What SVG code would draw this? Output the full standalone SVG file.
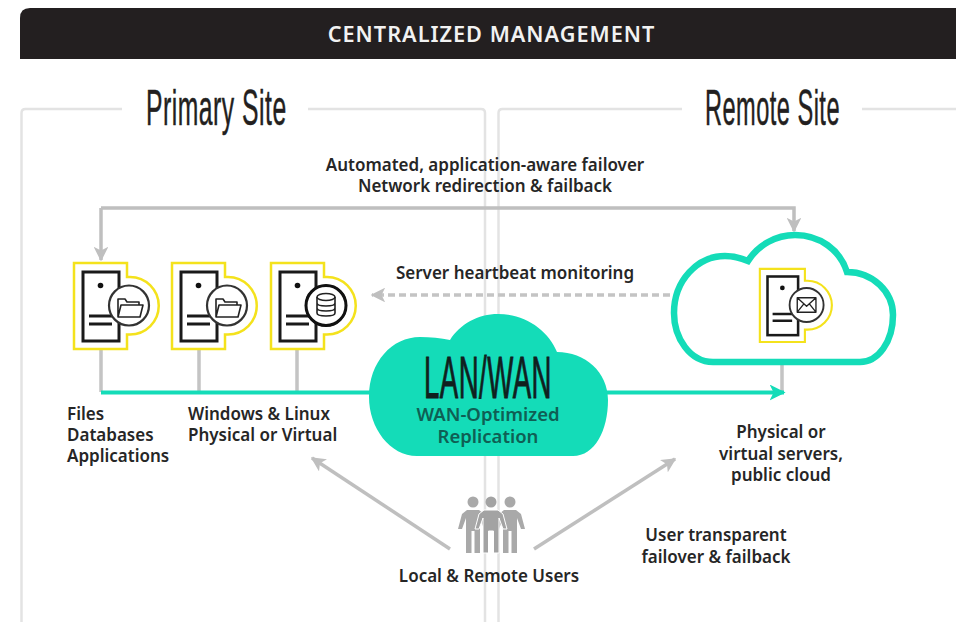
<svg xmlns="http://www.w3.org/2000/svg" width="956" height="622" viewBox="0 0 956 622">
<style>
text{font-family:"Noto Sans","Liberation Sans",sans-serif;font-weight:600;font-size:17px;fill:#262626}
.m{text-anchor:middle}
.cond{font-family:"Liberation Sans",sans-serif;font-weight:400;fill:#231f20;stroke:#231f20;stroke-width:.5px;letter-spacing:1px}
.frame{fill:none;stroke:#e3e3e3;stroke-width:2.5}
.ln{fill:none;stroke:#bfbfbf;stroke-width:3.5}
.thin{fill:none;stroke:#c4c4c4;stroke-width:3.5}
.teal{fill:none;stroke:#14dcb8;stroke-width:4}
.ico{fill:none;stroke:#222;stroke-width:1.6;stroke-linejoin:round}
.usr{fill:#a9a9a9}
</style>
<defs>
<g id="server">
<path d="M1 1H54V15H57A28.5 28.5 0 0 1 57 72.500H54V87H1Z" fill="#fff" stroke="#f4e21c" stroke-width="2.500"/>
<rect x="10" y="10" width="36" height="69" fill="#fff" stroke="#1a1a1a" stroke-width="3"/>
<circle cx="27.500" cy="23.500" r="2.800" fill="#111"/>
<path d="M16 54H40M16 62H39" stroke="#1a1a1a" stroke-width="3" fill="none"/>
<circle cx="56" cy="43.500" r="20" fill="#fff" stroke="#333" stroke-width="2.200"/>
</g>
<g id="folder">
<path class="ico" d="M45 55V37H52L54 40H66V43M45 55L48 43H70L67 55Z"/>
</g>
<g id="dbicon">
<circle cx="56" cy="43.500" r="20" fill="#fff" stroke="#111" stroke-width="3"/>
<ellipse class="ico" cx="56" cy="35" rx="9" ry="3.500"/>
<path class="ico" d="M47 35V51C47 55 65 55 65 51V35M47 41C47 45 65 45 65 41M47 46C47 50 65 50 65 46"/>
</g>
<g id="person"><circle class="usr" cy="502" r="5.500"/><path class="usr" d="M-6 510H6L11 514L15 529H11L7 518V553H1.500V531H-1.500V553H-7V518L-11 529H-15L-11 514Z"/></g>
<marker id="ah" viewBox="0 0 10 10" refX="9" refY="5" markerWidth="4.200" markerHeight="4.200" orient="auto"><path d="M0 0L10 5L0 10L2.500 5Z" fill="#bfbfbf"/></marker>
<marker id="at" viewBox="0 0 10 10" refX="9" refY="5" markerWidth="4" markerHeight="4" orient="auto"><path d="M0 0L10 5L0 10L2.500 5Z" fill="#14dcb8"/></marker>
</defs>
<rect width="956" height="622" fill="#fff"/>
<g id="frames">
<path class="frame" d="M21.500 622V113Q21.500 109 25.500 109H122M308 109H481Q485 109 485 113V622"/>
<path class="frame" d="M498.500 622V113Q498.500 109 502.500 109H682M862 109H956"/>
</g>
<g id="connectors">
<path class="ln" d="M101 208V260" marker-end="url(#ah)"/>
<path class="ln" d="M101 208H794V231" marker-end="url(#ah)"/>
<path d="M670 295H372" fill="none" stroke="#c4c4c4" stroke-width="3.500" stroke-dasharray="7 4" marker-end="url(#ah)"/>
<path class="thin" d="M101 350V392M199 350V392M297 350V392M782 365V393"/>
<path class="teal" d="M101 392.500H784" marker-end="url(#at)"/>
<path class="ln" d="M450 549L312 458" marker-end="url(#ah)"/>
<path class="ln" d="M534 549L675 459" marker-end="url(#ah)"/>
</g>
<g id="header">
<path d="M20 59V18Q20 8 30 8H956V59Z" fill="#231f20"/>
<text class="m" x="491.500" y="42" style="font-size:21.700px;letter-spacing:1px;fill:#f2f2f2">CENTRALIZED MANAGEMENT</text>
</g>
<g id="primary-title"><text class="cond" transform="translate(146 125) scale(.495 1)" style="font-size:50px">Primary Site</text></g>
<g id="remote-title"><text class="cond" transform="translate(705 125) scale(.472 1)" style="font-size:50px">Remote Site</text></g>
<g id="failover-label">
<text class="m" x="485" y="171">Automated, application-aware failover</text>
<text class="m" x="485" y="192">Network redirection &amp; failback</text>
</g>
<g id="heartbeat-label"><text class="m" x="515" y="279">Server heartbeat monitoring</text></g>
<g id="node-files" transform="translate(73 262)"><use href="#server"/><use href="#folder"/></g>
<g id="node-windows" transform="translate(171 262)"><use href="#server"/><use href="#folder"/></g>
<g id="node-database" transform="translate(270 262)"><use href="#server"/><use href="#dbicon"/></g>
<g id="node-remote-cloud">
<path d="M713 362C690 362 674 338 674 313C674 280 698 256 725 256C733 256 741 258 748 261C758 245 776 235 795 235C820 235 840 250 847 272C873 272 893 292 893 315C893 342 878 362 860 362Z" fill="#fff" stroke="#14dcb8" stroke-width="6.500"/>
<g transform="translate(759 268) scale(.85)"><use href="#server"/>
<path class="ico" d="M45 35H67V52H45ZM45 35L56 45L67 35M45 52L53 42M67 52L59 42" stroke-width="2"/></g>
</g>
<g id="node-lanwan">
<path d="M417 456C390 456 369 428 369 397C369 362 392 337 420 337C430 337 441 338 450 340C460 324 478 314 498 314C525 314 548 330 557 352C585 352 608 372 608 400C608 430 595 456 573 456Z" fill="#14dcb8"/>
<text class="cond" transform="translate(424 398) scale(.46 1)" style="font-size:60px;stroke-width:1px;fill:#10201e;stroke:#10201e">LAN/WAN</text>
<text class="m" x="488" y="421" style="font-size:18.500px;fill:#0f5f54">WAN-Optimized</text>
<text class="m" x="488" y="443" style="font-size:18.500px;fill:#0f5f54">Replication</text>
</g>
<g id="label-files">
<text x="67" y="420">Files</text><text x="67" y="441">Databases</text><text x="67" y="462">Applications</text>
</g>
<g id="label-windows">
<text x="188" y="420">Windows &amp; Linux</text><text x="188" y="441">Physical or Virtual</text>
</g>
<g id="label-remote">
<text class="m" x="781" y="438">Physical or</text><text class="m" x="781" y="460">virtual servers,</text><text class="m" x="781" y="481">public cloud</text>
</g>
<g id="label-transparent">
<text class="m" x="716" y="541">User transparent</text><text class="m" x="716" y="563">failover &amp; failback</text>
</g>
<g id="node-users">
<use href="#person" x="473"/>
<use href="#person" x="510"/>
<path d="M484 510H498L503 514L507 529H503L499 518V553H493.500V531H488.500V553H483V518L479 529H475L479 514Z" fill="#a3a3a3" stroke="#fff" stroke-width="1"/>
<circle cx="491" cy="502" r="5.500" fill="#a3a3a3"/>
<text class="m" x="489" y="582">Local &amp; Remote Users</text>
</g>
</svg>
